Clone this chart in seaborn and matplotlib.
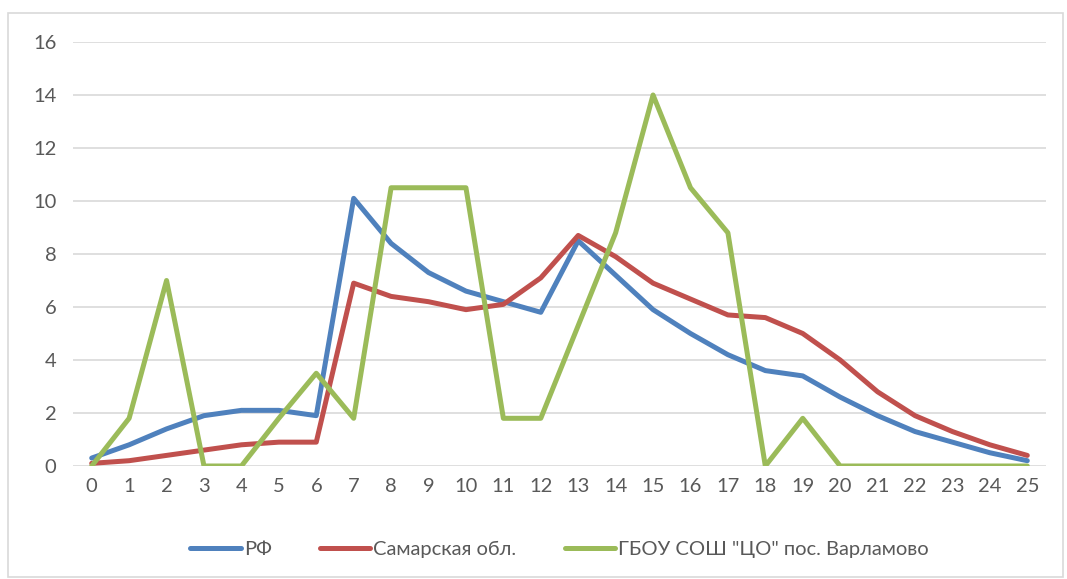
import numpy as np
import pandas as pd
import seaborn as sns
import matplotlib.pyplot as plt
from matplotlib.patches import Rectangle

############# Data ######################################
x_vals = list(range(26))
rf = [0.3, 0.8, 1.4, 1.9, 2.1, 2.1, 1.9, 10.1, 8.4, 7.3, 6.6, 6.2, 5.8, 8.5, 7.2,
      5.9, 5.0, 4.2, 3.6, 3.4, 2.6, 1.9, 1.3, 0.9, 0.5, 0.2]
samara = [0.1, 0.2, 0.4, 0.6, 0.8, 0.9, 0.9, 6.9, 6.4, 6.2, 5.9, 6.1, 7.1, 8.7, 7.9,
          6.9, 6.3, 5.7, 5.6, 5.0, 4.0, 2.8, 1.9, 1.3, 0.8, 0.4]
school = [0, 1.8, 7.0, 0, 0, 1.8, 3.5, 1.8, 10.5, 10.5, 10.5, 1.8, 1.8, 5.3, 8.8,
          14.0, 10.5, 8.8, 0, 1.8, 0, 0, 0, 0, 0, 0]
series_names = ['РФ', 'Самарская обл.', 'ГБОУ СОШ "ЦО" пос. Варламово']
colors = ['#4f81bd', '#c0504d', '#9bbb59']

df = pd.concat([
    pd.DataFrame({'x': x_vals, 'y': vals, 'series': name})
    for name, vals in zip(series_names, [rf, samara, school])
])

############# Plot ######################################
sns.set_style('white')
plt.rcParams['font.family'] = ['Lato', 'DejaVu Sans']
text_col = '#595959'
fsize = 14.5

fig = plt.figure(figsize=(10.67, 5.79), dpi=100)
ax = fig.add_axes([73 / 1067, 1 - 466 / 579, (1046 - 73) / 1067, (466 - 42) / 579])

sns.lineplot(data=df, x='x', y='y', hue='series', palette=colors,
             linewidth=3.6, ax=ax, legend=True, sort=False)

ax.set_xlim(-0.5, 25.5)
ax.set_ylim(0, 16)
ax.set_xticks(x_vals)
ax.set_yticks(range(0, 17, 2))
ax.set_xlabel('')
ax.set_ylabel('')
ax.yaxis.grid(True, color='#d9d9d9', linewidth=1.2)
ax.set_axisbelow(True)
for side in ['top', 'right', 'left', 'bottom']:
    ax.spines[side].set_visible(False)
ax.tick_params(axis='both', length=0, labelsize=fsize, colors=text_col)
ax.tick_params(axis='y', pad=12)
ax.tick_params(axis='x', pad=9)

# legend at bottom
handles, labels = ax.get_legend_handles_labels()
ax.legend(handles, labels, loc='center', bbox_to_anchor=(0.5, (466 - 549) / (466 - 42)),
          ncol=3, frameon=False, fontsize=fsize, labelcolor=text_col,
          handlelength=2.5, handletextpad=0.15, columnspacing=2.4)

# chart border
fig.patches.append(Rectangle((8 / 1067, 1 - 577 / 579), 1055 / 1067, 564 / 579,
                             transform=fig.transFigure, fill=False,
                             edgecolor='#d9d9d9', linewidth=1.2))

plt.savefig('out.png', dpi=100)
